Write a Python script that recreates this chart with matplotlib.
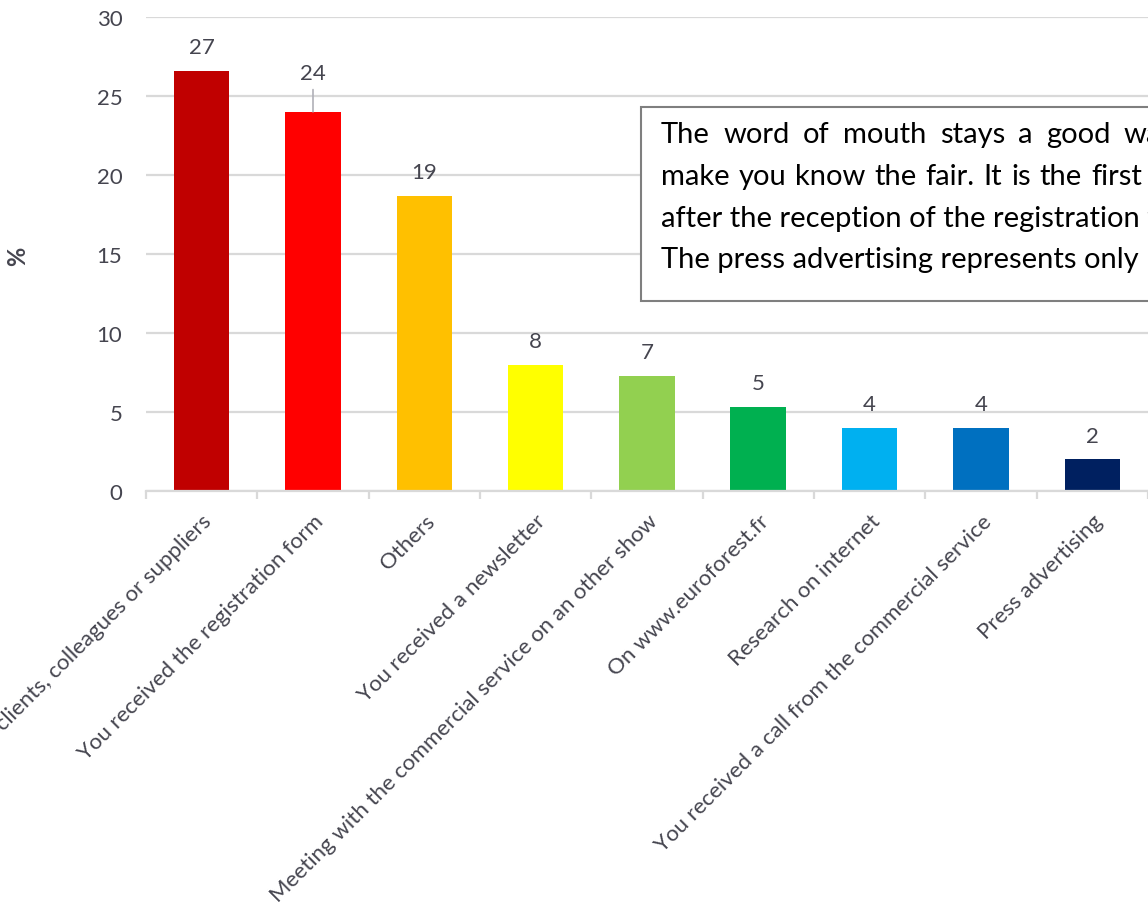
import matplotlib
matplotlib.use("Agg")
import matplotlib.pyplot as plt
from matplotlib.patches import Rectangle

# Survey: how visitors heard about the fair (% of answers)
categories = [
    "By clients, colleagues or suppliers",
    "You received the registration form",
    "Others",
    "You received a newsletter",
    "Meeting with the commercial service on an other show",
    "On www.euroforest.fr",
    "Research on internet",
    "You received a call from the commercial service",
    "Press advertising",
]
values = [26.6, 24.0, 18.7, 8.0, 7.3, 5.3, 4.0, 4.0, 2.0]
colors = ["#C00000", "#FF0000", "#FFC000", "#FFFF00", "#92D050",
          "#00B050", "#00B0F0", "#0070C0", "#002060"]

comment_lines = [
    ["The", "word", "of", "mouth", "stays", "a", "good", "way"],
    ["make", "you", "know", "the", "fair.", "It", "is", "the", "first"],
    ["after the reception of the registration form."],
    ["The press advertising represents only"],
]

FONT = "Lato"
TXT = "#45454f"
GRID = "#d9d9d9"

W, H = 1148, 904
fig = plt.figure(figsize=(W / 100, H / 100), dpi=100)


def fx(px):
    return px / W


def fy(py):
    return 1 - py / H


left_px, right_px, top_px, bottom_px = 146, 1148, 18, 492
ax = fig.add_axes([fx(left_px), fy(bottom_px), fx(right_px - left_px),
                   (bottom_px - top_px) / H])

x = list(range(len(categories)))
ax.bar(x, values, width=0.5, color=colors, zorder=3)

slot_px = 112
ax.set_xlim(-0.5, -0.5 + (right_px - left_px) / slot_px)
ax.set_ylim(0, 30)
ax.set_yticks(range(0, 31, 5))
ax.yaxis.grid(True, color=GRID, linewidth=1.6, zorder=0)
for s in ["left", "right", "top"]:
    ax.spines[s].set_visible(False)
ax.spines["bottom"].set_color(GRID)
ax.spines["bottom"].set_linewidth(1.6)
ax.spines["bottom"].set_zorder(4)

ax.tick_params(axis="y", length=0, pad=17, labelsize=16, labelcolor=TXT)
for lab in ax.get_yticklabels():
    lab.set_fontfamily(FONT)

ax.set_xticks(x)
ax.set_xticklabels(categories, rotation=45, ha="right", va="top",
                   rotation_mode="anchor", fontsize=16, color=TXT,
                   fontfamily=FONT)
ax.tick_params(axis="x", which="major", length=0, pad=14)
ax.set_xticks([i - 0.5 for i in range(len(categories) + 1)], minor=True)
ax.tick_params(axis="x", which="minor", length=6, width=1.6, color=GRID,
               direction="out")

# value labels above the bars
for i, v in enumerate(values):
    if i == 1:
        ax.annotate(f"{v:.0f}", xy=(i, v), xytext=(0, 21),
                    textcoords="offset points", ha="center", va="bottom",
                    fontsize=16, color=TXT, fontfamily=FONT,
                    arrowprops=dict(arrowstyle="-", color="#b0b0b8",
                                    lw=1.2, shrinkA=3, shrinkB=0))
    else:
        ax.annotate(f"{v:.0f}", xy=(i, v), xytext=(0, 10),
                    textcoords="offset points", ha="center", va="bottom",
                    fontsize=16, color=TXT, fontfamily=FONT)

fig.text(fx(18), fy(256), "%", rotation=90, ha="center", va="center",
         fontsize=17, fontweight="bold", color=TXT, fontfamily=FONT)

# comment box
box_l, box_t, box_b = 641, 108, 302
fig.add_artist(Rectangle((fx(box_l), fy(box_b)), fx(700), (box_b - box_t) / H,
                         transform=fig.transFigure, facecolor="white",
                         edgecolor="#7f7f7f", linewidth=1.5, zorder=5))

fig.canvas.draw()
renderer = fig.canvas.get_renderer()

BOX_FS = 21
text_x = 661
baselines = [143, 185, 227, 268]
# justified lines: left edge of last word for each line
last_word_x = [1124, 1091, None, None]
space_w = fig.text(0, 0, "a a", fontsize=BOX_FS, fontfamily=FONT)
aa_w = fig.text(0, 0, "aa", fontsize=BOX_FS, fontfamily=FONT)
min_gap = (space_w.get_window_extent(renderer).width
           - aa_w.get_window_extent(renderer).width)
space_w.remove()
aa_w.remove()
for words, base, last_x in zip(comment_lines, baselines, last_word_x):
    if last_x is None:
        fig.text(fx(text_x), fy(base), words[0], ha="left", va="baseline",
                 fontsize=BOX_FS, color="black", fontfamily=FONT, zorder=6)
        continue
    artists = [fig.text(0, 0, w, ha="left", va="baseline", fontsize=BOX_FS,
                        color="black", fontfamily=FONT, zorder=6)
               for w in words]
    widths = [a.get_window_extent(renderer).width for a in artists]
    gap = (last_x - text_x - sum(widths[:-1])) / (len(words) - 1)
    gap = max(gap, min_gap)
    cx = text_x
    for a, w in zip(artists, widths):
        a.set_position((fx(cx), fy(base)))
        cx += w + gap

fig.savefig("out.png", dpi=100)
